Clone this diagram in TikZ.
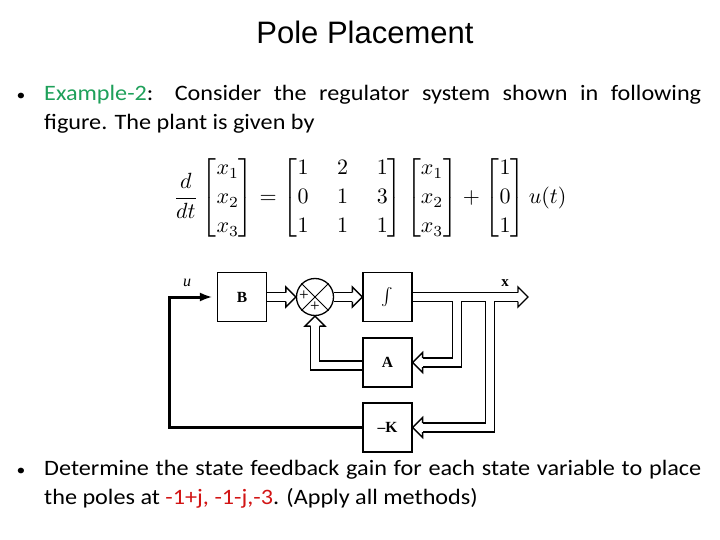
\documentclass[tikz,border=0pt]{standalone}
\usepackage{amsmath}
\usepackage{graphicx}
\usepackage{fontspec}
\setmainfont{Carlito}
\newfontfamily\titlefont{Liberation Sans}
\newfontfamily\bodyfont{Carlito}[FakeStretch=1.1]
\newfontfamily\diagfont{Liberation Serif}
\usetikzlibrary{calc,backgrounds,arrows.meta}
\definecolor{exgreen}{RGB}{30,160,90}
\definecolor{polered}{RGB}{210,20,20}
\tikzset{
  blk/.style={draw, line width=1.3pt, minimum width=49pt, minimum height=49pt, inner sep=0pt,
    font=\diagfont\bfseries\fontsize{15.5}{17}\selectfont},
  pipeout/.style={line width=10.4pt, draw=black, line join=miter},
  pipein/.style={line width=7.6pt, draw=white, line join=miter},
  htip/.pic={\filldraw[fill=white, draw=black, line width=1.4pt, line join=miter]
    (-10,4.5) -- (-10,10) -- (0,0) -- (-10,-10) -- (-10,-4.5);},
  bodytext/.style={font=\bodyfont\fontsize{22}{29}\selectfont, inner sep=0pt, anchor=base west},
  lbl/.style={inner sep=0pt, font=\diagfont\fontsize{17}{17}\selectfont}
}
\begin{document}
\begin{tikzpicture}[x=1pt,y=-1pt]
\useasboundingbox (0,0) rectangle (720,540);

% title and text
\node[font=\titlefont\fontsize{31}{36}\selectfont, anchor=base] (title) at (365,43.5) {Pole Placement};
\node[font=\bodyfont\fontsize{16}{20}\selectfont, anchor=base, inner sep=0pt] (bul1) at (21,100.5) {•};
\node[bodytext] (l1) at (44,100.5) {\makebox[657pt][s]{\textcolor{exgreen}{Example-2}: Consider the regulator system shown in following}};
\node[bodytext] (l2) at (44,129.5) {figure. The plant is given by};
\node[font=\bodyfont\fontsize{16}{20}\selectfont, anchor=base, inner sep=0pt] (bul2) at (21,475.5) {•};
\node[bodytext] (l3) at (44,475.5) {\makebox[657pt][s]{Determine the state feedback gain for each state variable to place}};
\node[bodytext] (l4) at (44,504.5) {the poles at \textcolor{polered}{-1+j, -1-j,-3}. (Apply all methods)};

% equation
\node[inner sep=0pt] (eq) at (370,198)
 {\scalebox{2.2}{\renewcommand\arraystretch{1.1}$\displaystyle \frac{d}{dt}\begin{bmatrix}x_1\\x_2\\x_3\end{bmatrix}
  = {\arraycolsep=6.5pt\begin{bmatrix}1&2&1\\0&1&3\\1&1&1\end{bmatrix}}
  \begin{bmatrix}x_1\\x_2\\x_3\end{bmatrix}
  + \begin{bmatrix}1\\0\\1\end{bmatrix}u(t)$}};

% blocks
\node[blk] (B) at (242,297) {B};
\node[draw, circle, line width=1.3pt, minimum size=37pt, inner sep=0pt] (sum) at (315,297) {};
\node[blk, font=\fontsize{17}{17}\selectfont] (int) at (387.5,297) {$\int$};
\node[blk] (A) at (387.5,362.5) {A};
\node[blk] (K) at (387.5,427.5) {\textendash K};
\draw[line width=0.8pt] (sum.north east) -- (sum.south west) (sum.north west) -- (sum.south east);
\node[lbl] (p1) at ($(sum.center)+(-11,-1)$) {+};
\node[lbl] (p2) at ($(sum.center)+(0,10)$) {+};

\coordinate (xend) at (528,297);
\coordinate (br1) at (457,297);
\coordinate (br2) at (490,297);
\coordinate (ucorner) at (169,427.5);

\begin{scope}[on background layer]
\fill[white] (0,0) rectangle (720,540);
\draw[pipeout] (B.east) -- ($(sum.west)+(-10,0)$)
  (sum.east) -- ($(int.west)+(-10,0)$)
  (int.east) -- ($(xend)+(-10,0)$)
  (br1) |- ($(A.east)+(10,0)$)
  (br2) |- ($(K.east)+(10,0)$)
  ($(A.west)+(0,3)$) -| ($(sum.south)+(0,10)$);
\draw[pipein] (B.east) -- ($(sum.west)+(-10,0)$)
  (sum.east) -- ($(int.west)+(-10,0)$)
  (int.east) -- ($(xend)+(-10,0)$)
  (br1) |- ($(A.east)+(10,0)$)
  (br2) |- ($(K.east)+(10,0)$)
  ($(A.west)+(0,3)$) -| ($(sum.south)+(0,10)$);
\end{scope}

\pic at (sum.west) {htip};
\pic at (int.west) {htip};
\pic at (xend) {htip};
\pic[rotate=180] at (A.east) {htip};
\pic[rotate=180] at (K.east) {htip};
\pic[rotate=90] at (sum.south) {htip};

\draw[line width=3pt, line join=miter, -{Latex[length=13pt,width=9pt]}, shorten >=4pt]
  (K.west) -- (ucorner) |- (B.west);

\node[lbl, font=\diagfont\itshape\fontsize{16}{16}\selectfont] (ulab) at (187,283) {u};
\node[lbl, font=\diagfont\bfseries\fontsize{15}{15}\selectfont] (xlab) at (505,283) {x};
\end{tikzpicture}
\end{document}
